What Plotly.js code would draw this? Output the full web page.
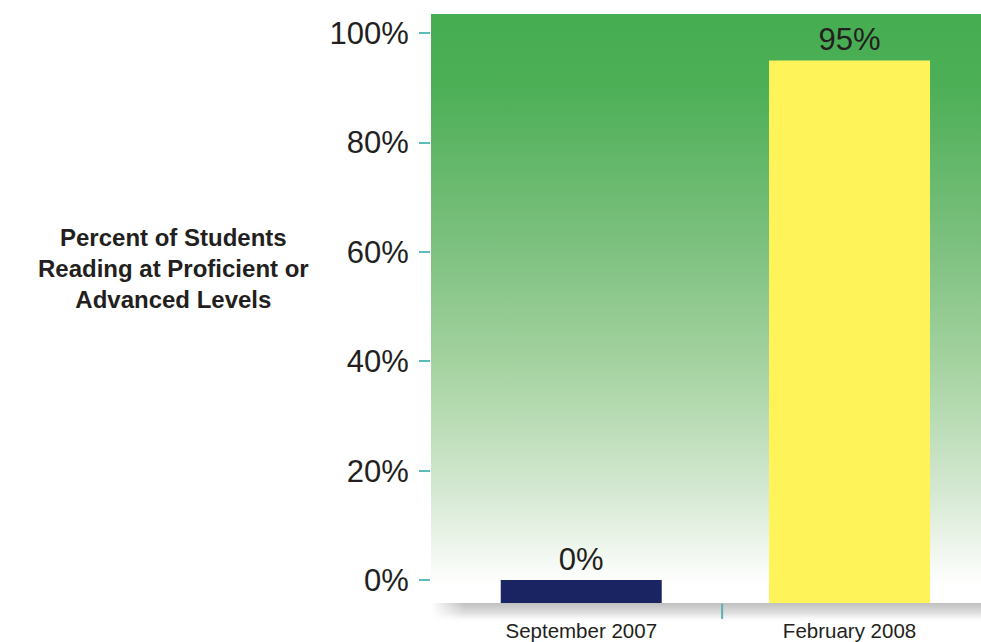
<!DOCTYPE html>
<html>
<head>
<meta charset="utf-8">
<script src="https://cdn.plot.ly/plotly-3.0.1.min.js"></script>
<style>
  html, body { margin: 0; padding: 0; background: #ffffff; }
  #chart { width: 981px; height: 642px; }
</style>
</head>
<body>
<div id="chart"></div>
<script>
// ---- data ----
const categories = ["September 2007", "February 2008"];
const values = [0, 95];
const valueLabels = ["0%", "95%"];
const barColors = ["#1b2462", "#fff35a"];
const yTickValues = [0, 20, 40, 60, 80, 100];
const yTickLabels = ["0%", "20%", "40%", "60%", "80%", "100%"];
const yTitle = "Percent of Students<br>Reading at Proficient or<br>Advanced Levels";

const textColor = "#231f20";
const fontFamily = "'Liberation Sans', Arial, sans-serif";
const barBase = -4.2;

// gradient background for the plot area
const bgSvg = '<svg xmlns="http://www.w3.org/2000/svg" width="100" height="100" preserveAspectRatio="none">' +
  '<defs><linearGradient id="g" x1="0" y1="0" x2="0" y2="1">' +
  '<stop offset="0" stop-color="#46ad51"/>' +
  '<stop offset="0.12" stop-color="#4caf56"/>' +
  '<stop offset="0.40" stop-color="#7ec180"/>' +
  '<stop offset="0.60" stop-color="#a6d3a1"/>' +
  '<stop offset="0.80" stop-color="#d2e7cf"/>' +
  '<stop offset="0.97" stop-color="#ffffff"/>' +
  '<stop offset="1" stop-color="#ffffff"/>' +
  '</linearGradient></defs>' +
  '<rect x="0" y="0" width="100" height="100" fill="url(#g)"/></svg>';

// soft grey shadow under the plot area
const shadowSvg = '<svg xmlns="http://www.w3.org/2000/svg" width="100" height="100" preserveAspectRatio="none">' +
  '<defs><linearGradient id="v" x1="0" y1="0" x2="0" y2="1">' +
  '<stop offset="0" stop-color="#c0c0c0"/>' +
  '<stop offset="0.55" stop-color="#e2e2e2"/>' +
  '<stop offset="1" stop-color="#ffffff" stop-opacity="0"/>' +
  '</linearGradient>' +
  '<linearGradient id="h" x1="0" y1="0" x2="1" y2="0">' +
  '<stop offset="0" stop-color="#ffffff" stop-opacity="1"/>' +
  '<stop offset="0.06" stop-color="#ffffff" stop-opacity="0"/>' +
  '<stop offset="1" stop-color="#ffffff" stop-opacity="0"/>' +
  '</linearGradient></defs>' +
  '<rect x="0" y="0" width="100" height="100" fill="url(#v)"/>' +
  '<rect x="0" y="0" width="100" height="100" fill="url(#h)"/></svg>';

const toUrl = s => 'data:image/svg+xml;charset=utf-8,' + encodeURIComponent(s);

const trace = {
  type: "bar",
  x: categories,
  y: values.map(v => v - barBase),
  base: barBase,
  width: 0.6,
  marker: { color: barColors, line: { width: 0 } },
  text: valueLabels,
  textposition: "outside",
  textfont: { family: fontFamily, size: 31, color: textColor },
  cliponaxis: false,
  hoverinfo: "skip"
};

const layout = {
  width: 981,
  height: 642,
  margin: { l: 431, r: 0, t: 14, b: 39 },
  paper_bgcolor: "#ffffff",
  plot_bgcolor: "rgba(0,0,0,0)",
  showlegend: false,
  bargap: 0.4,
  xaxis: {
    type: "category",
    range: [-0.56, 1.49],
    showgrid: false,
    zeroline: false,
    showline: false,
    ticks: "",
    tickfont: { family: fontFamily, size: 20.5, color: textColor },
    ticklabelstandoff: 13
  },
  yaxis: {
    range: [barBase, 103.5],
    tickvals: yTickValues,
    ticktext: yTickLabels,
    showgrid: false,
    zeroline: false,
    showline: false,
    ticks: "outside",
    ticklen: 11,
    tickwidth: 2,
    tickcolor: "#5bbcbe",
    tickfont: { family: fontFamily, size: 31, color: textColor },
    ticklabelstandoff: 4
  },
  images: [
    {
      source: toUrl(bgSvg),
      xref: "paper", yref: "paper",
      x: 0, y: 1, sizex: 1, sizey: 1,
      xanchor: "left", yanchor: "top",
      sizing: "stretch", layer: "below"
    },
    {
      source: toUrl(shadowSvg),
      xref: "paper", yref: "paper",
      x: 0, y: 0, sizex: 1, sizey: 0.034,
      xanchor: "left", yanchor: "top",
      sizing: "stretch", layer: "below"
    }
  ],
  shapes: [
    {
      type: "line",
      xref: "x", yref: "paper",
      x0: 0.525, x1: 0.525, y0: -0.001, y1: -0.027,
      line: { color: "#5bb1b3", width: 2 }
    }
  ],
  annotations: [
    {
      text: "<b>" + yTitle + "</b>",
      xref: "paper", yref: "paper",
      x: -0.469, y: 0.568,
      xanchor: "center", yanchor: "middle",
      align: "center",
      showarrow: false,
      font: { family: fontFamily, size: 24, color: textColor }
    }
  ]
};

Plotly.newPlot("chart", [trace], layout, { displayModeBar: false, staticPlot: true });
</script>
</body>
</html>
